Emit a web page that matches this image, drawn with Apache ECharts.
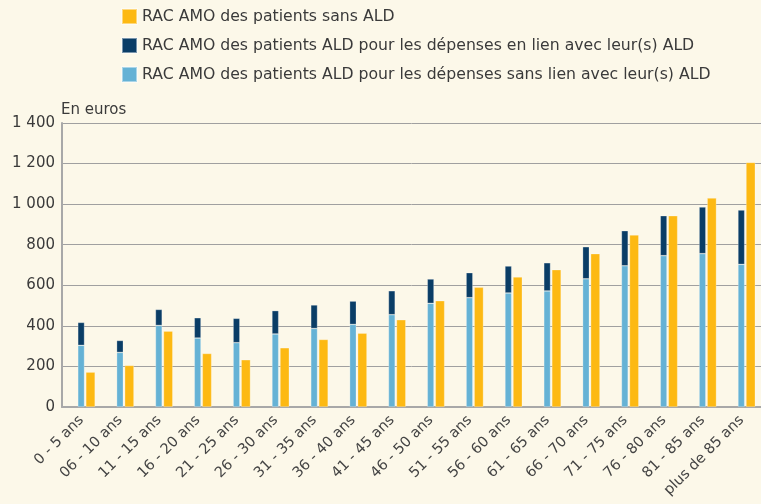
<!DOCTYPE html>
<html>
<head>
<meta charset="utf-8">
<script src="https://cdn.jsdelivr.net/npm/echarts@6/dist/echarts.min.js"></script>
<style>
html,body{margin:0;padding:0;background:#FCF8E9;}
#chart{width:761px;height:504px;}
</style>
</head>
<body>
<div id="chart"></div>
<script>
const categories = ["0 - 5 ans","06 - 10 ans","11 - 15 ans","16 - 20 ans","21 - 25 ans","26 - 30 ans","31 - 35 ans","36 - 40 ans","41 - 45 ans","46 - 50 ans","51 - 55 ans","56 - 60 ans","61 - 65 ans","66 - 70 ans","71 - 75 ans","76 - 80 ans","81 - 85 ans","plus de 85 ans"];
const aldSansLien = [304,269,402,340,317,360,387,407,455,511,539,562,572,632,696,746,756,703];
const aldEnLien = [113,59,79,100,120,115,116,115,118,120,123,133,139,158,173,197,230,268];
const sansAld = [172,205,374,264,233,292,333,364,430,524,590,641,677,756,848,943,1030,1206];
const yTicks = [0,200,400,600,800,1000,1200,1400];

const nameSansAld = "RAC AMO des patients sans ALD";
const nameEnLien = "RAC AMO des patients ALD pour les dépenses en lien avec leur(s) ALD";
const nameSansLien = "RAC AMO des patients ALD pour les dépenses sans lien avec leur(s) ALD";

const FONT = "DejaVu Sans";
const chart = echarts.init(document.getElementById('chart'));
chart.setOption({
  backgroundColor: '#FCF8E9',
  animation: false,
  textStyle: {fontFamily: FONT},
  title: {
    text: 'En euros', left: 56, top: 98,
    textStyle: {fontFamily: FONT, fontSize: 15, fontWeight: 'normal', color: '#3a3a3a'}
  },
  legend: {
    data: [nameSansAld, nameEnLien, nameSansLien],
    orient: 'vertical', left: 121, top: 8, padding: 0,
    itemWidth: 15, itemHeight: 15, itemGap: 12,
    icon: 'rect',
    textStyle: {fontFamily: FONT, fontSize: 15.7, color: '#3a3a3a'}
  },
  grid: {left: 62, top: 123, width: 707, height: 284, containLabel: false},
  xAxis: {
    type: 'category', data: categories,
    axisLine: {lineStyle: {color: '#a8a8a8', width: 2}},
    axisTick: {show: false},
    axisLabel: {rotate: 45, fontFamily: FONT, fontSize: 14.5, color: '#444', margin: 11, interval: 0}
  },
  yAxis: {
    type: 'value', min: yTicks[0], max: yTicks[yTicks.length-1], interval: 200,
    axisLine: {show: true, lineStyle: {color: '#a8a8a8', width: 2}},
    axisTick: {show: false},
    splitLine: {lineStyle: {color: '#a0a0a0', width: 1}},
    axisLabel: {fontFamily: FONT, fontSize: 15, color: '#3a3a3a', margin: 7,
      formatter: v => String(v).replace(/\B(?=(\d{3})+(?!\d))/g, ' ')}
  },
  series: [
    {type: 'bar', name: '_spacer', data: [], barWidth: 8.4, barGap: '20%', silent: true},
    {type: 'bar', name: nameSansLien, stack: 'ald', data: aldSansLien, barWidth: 6.7, barGap: '20%',
      itemStyle: {color: '#65B2D5', borderColor: 'rgba(255,255,255,0.45)', borderWidth: 0.6}},
    {type: 'bar', name: nameEnLien, stack: 'ald', data: aldEnLien, barWidth: 6.7, barGap: '20%',
      itemStyle: {color: '#0A3D66', borderColor: 'rgba(255,255,255,0.45)', borderWidth: 0.6}},
    {type: 'bar', name: nameSansAld, data: sansAld, barWidth: 9.3, barGap: '20%',
      itemStyle: {color: '#FDB913', borderColor: 'rgba(255,255,255,0.45)', borderWidth: 0.6}}
  ]
});
</script>
</body>
</html>
